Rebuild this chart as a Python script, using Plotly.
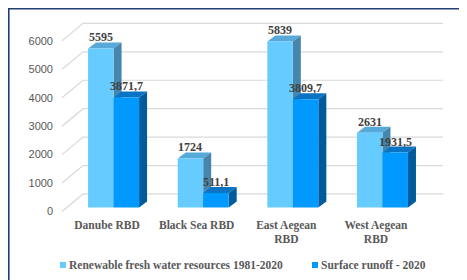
import plotly.graph_objects as go

# ---- data ----
categories = ["Danube RBD", "Black Sea RBD", "East Aegean<br>RBD", "West Aegean<br>RBD"]
renewable = [5595, 1724, 5839, 2631]
runoff = [3871.7, 511.1, 3809.7, 1931.5]
renewable_labels = ["5595", "1724", "5839", "2631"]
runoff_labels = ["3871,7", "511,1", "3809,7", "1931,5"]
series_names = ["Renewable fresh water resources 1981-2020", "Surface runoff - 2020"]
y_ticks = [0, 1000, 2000, 3000, 4000, 5000, 6000]

# ---- layout geometry (page is offset by the default 8px body margin) ----
OFF = 8
W, H = 467 - OFF, 280 - OFF
ML, MT = 58 - OFF, 17 - OFF
PW, PH = 389, 199
MR, MB = W - ML - PW, H - MT - PH
XR = [-0.62, 3.72]
YR = [-300, 6700]
xu = PW / (XR[1] - XR[0])   # px per x unit
yu = PH / (YR[1] - YR[0])   # px per y unit

def dx(px):
    return px / xu

def dy(px):
    return px / yu

def paper_x(page_px):
    return (page_px - OFF - ML) / PW

def paper_y(page_py):
    return (MT + PH - (page_py - OFF)) / PH

BW = dx(25.5)           # bar width
DX, DY = dx(8), dy(6)   # bar depth offsets

light = dict(front="#66CCFF", top="#56A9D8", side="#4686AC")
dark = dict(front="#0099FF", top="#0A74C4", side="#005B9C")

SERIF = "Liberation Serif, Times New Roman, serif"

fig = go.Figure()
xs = list(range(len(categories)))
fig.add_trace(go.Bar(x=xs, y=renewable, width=BW, offset=-BW, base=0,
                     marker=dict(color=light["front"], line=dict(width=0)),
                     name=series_names[0], showlegend=False, hoverinfo="skip"))
fig.add_trace(go.Bar(x=xs, y=runoff, width=BW, offset=0, base=0,
                     marker=dict(color=dark["front"], line=dict(width=0)),
                     name=series_names[1], showlegend=False, hoverinfo="skip"))

shapes = []

# perspective gridlines (front-left diagonal + back wall line)
fx_left = XR[0] + dx(4)
bx_left = fx_left + dx(21)
bx_right = XR[1] - dx(4)
front_off = -dy(4)
back_off = front_off + dy(17.5)
for v in y_ticks:
    shapes.append(dict(type="path", xref="x", yref="y", layer="below",
                       path=f"M{fx_left},{v+front_off} L{bx_left},{v+back_off} L{bx_right},{v+back_off}",
                       line=dict(color="#D9D9D9", width=1.2)))

def faces(x0, x1, v, col):
    top = dict(type="path", xref="x", yref="y", layer="between",
               path=f"M{x0},{v} L{x1},{v} L{x1+DX},{v+DY} L{x0+DX},{v+DY} Z",
               fillcolor=col["top"], line=dict(width=0))
    side = dict(type="path", xref="x", yref="y", layer="between",
                path=f"M{x1},{0} L{x1},{v} L{x1+DX},{v+DY} L{x1+DX},{DY} Z",
                fillcolor=col["side"], line=dict(width=0))
    return [top, side]

for i in xs:
    shapes += faces(i - BW, i, renewable[i], light)
for i in xs:
    shapes += faces(i, i + BW, runoff[i], dark)

# chart border (only top and left edges visible in frame)
shapes.append(dict(type="rect", xref="paper", yref="paper",
                   x0=paper_x(8.6), x1=paper_x(480), y0=paper_y(300), y1=paper_y(8.6),
                   line=dict(color="#243F73", width=2), fillcolor="rgba(0,0,0,0)", layer="above"))

annotations = []
lab_font = dict(family=SERIF, size=12, color="#404040")
for i in xs:
    annotations.append(dict(x=i - BW / 2, y=renewable[i], text=f"<b>{renewable_labels[i]}</b>",
                            showarrow=False, yanchor="middle", yshift=11, font=lab_font))
    annotations.append(dict(x=i + BW / 2, y=runoff[i], text=f"<b>{runoff_labels[i]}</b>",
                            showarrow=False, yanchor="middle", yshift=11, font=lab_font))

# legend
leg_font = dict(family=SERIF, size=11.5, color="#595959")
leg_items = [(60, 67, light["front"], series_names[0]), (312, 319, dark["front"], series_names[1])]
for sx, tx, col, name in leg_items:
    shapes.append(dict(type="rect", xref="paper", yref="paper",
                       x0=paper_x(sx), x1=paper_x(sx + 6), y0=paper_y(268), y1=paper_y(262),
                       fillcolor=col, line=dict(width=0)))
    annotations.append(dict(xref="paper", yref="paper", x=paper_x(tx), y=paper_y(265),
                            xanchor="left", yanchor="middle", showarrow=False,
                            text=f"<b>{name}</b>", font=leg_font))

fig.update_layout(
    width=W, height=H,
    margin=dict(l=ML, r=MR, t=MT, b=MB, pad=0),
    paper_bgcolor="white", plot_bgcolor="white",
    barmode="overlay",
    shapes=shapes, annotations=annotations,
    showlegend=False,
    xaxis=dict(range=XR, tickvals=[i - dx(6.5) for i in xs], ticktext=[f"<b>{c}</b>" for c in categories],
               showgrid=False, zeroline=False, showline=False, ticks="",
               tickfont=dict(family=SERIF, size=11.5, color="#595959")),
    yaxis=dict(range=YR, tickvals=y_ticks, ticktext=[str(v) for v in y_ticks],
               showgrid=False, zeroline=False, showline=False, ticks="",
               ticklabelshift=4, ticklabelstandoff=4,
               tickfont=dict(family="Liberation Sans", size=11, color="#595959")),
)

fig.write_html("out.html")
